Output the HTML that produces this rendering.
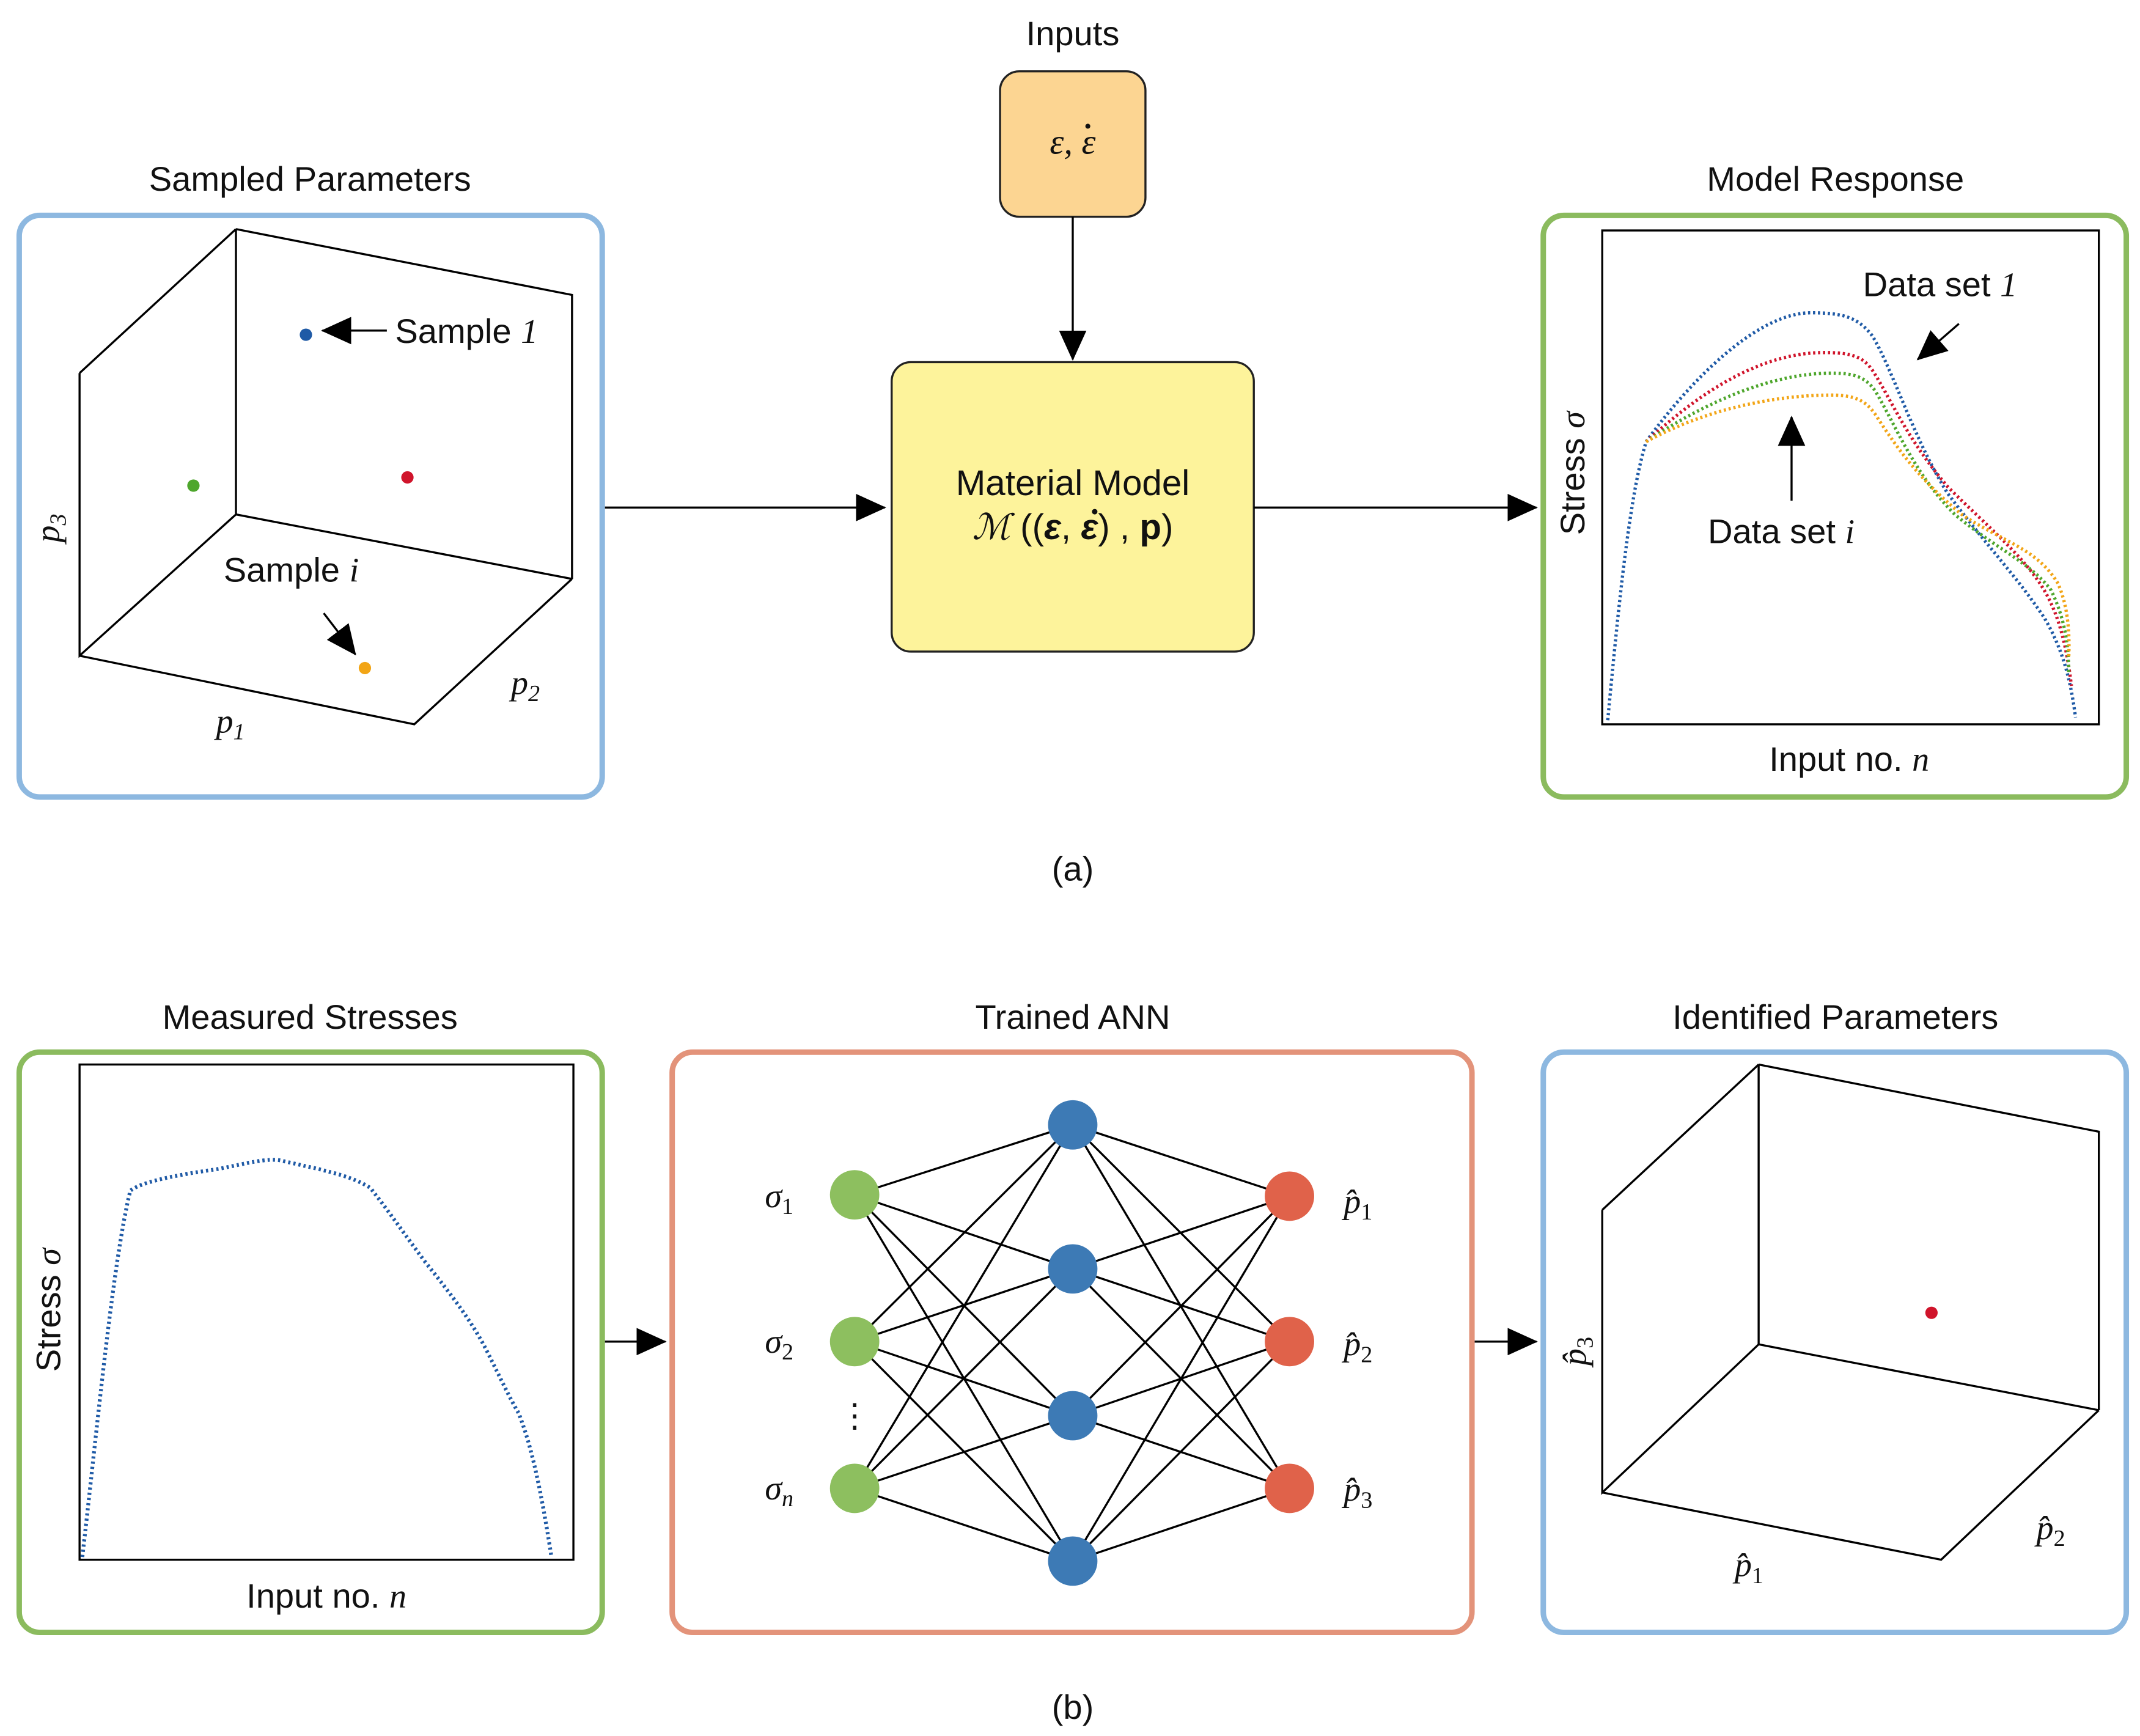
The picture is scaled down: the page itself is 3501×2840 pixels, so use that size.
<!DOCTYPE html>
<html><head><meta charset="utf-8"><style>
html,body{margin:0;padding:0;background:#fff}
svg{display:block}
text{font-family:"Liberation Sans",sans-serif;fill:#111}
.m{font-family:"Liberation Serif",serif;font-style:italic}
</style></head><body>
<svg width="3501" height="2840" viewBox="0 0 1560 1265.5" preserveAspectRatio="none" xmlns="http://www.w3.org/2000/svg">
<defs>
<marker id="ahb" markerWidth="22" markerHeight="20" refX="21" refY="10" orient="auto" markerUnits="userSpaceOnUse" viewBox="0 0 22 20">
<path d="M0,0 L22,10 L0,20 z" fill="#000"/></marker>
</defs>
<rect width="1560" height="1266" fill="#fff"/>

<!-- ===== (a) ===== -->
<text x="782" y="33" font-size="25" text-anchor="middle">Inputs</text>
<rect x="729" y="52" width="106" height="106" rx="14" fill="#fcd592" stroke="#222" stroke-width="1.5"/>
<text x="782" y="112" font-size="26" text-anchor="middle" class="m">ε, ε</text>
<circle cx="793" cy="92" r="1.8" fill="#111"/>
<line x1="782" y1="158" x2="782" y2="262" stroke="#000" stroke-width="1.5" marker-end="url(#ahb)"/>
<rect x="650" y="264" width="264" height="211" rx="14" fill="#fdf39b" stroke="#222" stroke-width="1.5"/>
<text x="782" y="361" font-size="26" text-anchor="middle">Material Model</text>
<text x="782" y="393" font-size="26" text-anchor="middle" font-family="Liberation Serif"><tspan font-style="italic">ℳ</tspan> ((<tspan font-weight="bold" font-style="italic">ε</tspan>, <tspan font-weight="bold" font-style="italic">ε</tspan>) , <tspan font-weight="bold">p</tspan>)</text>
<circle cx="798" cy="373" r="2" fill="#111"/>

<!-- left panel -->
<text x="226" y="139" font-size="25" text-anchor="middle">Sampled Parameters</text>
<rect x="14" y="157" width="425" height="424" rx="15" fill="none" stroke="#8db8e0" stroke-width="4"/>
<g stroke="#000" stroke-width="1.5" fill="none">
<path d="M172,167 L417,215 L417,422 M172,167 L172,375 L417,422 M58,272 L172,167 M58,272 L58,478 L172,375 M58,478 L302,528 L417,422"/>
</g>
<circle cx="223" cy="244" r="4.5" fill="#1f5aa6"/>
<circle cx="297" cy="348" r="4.5" fill="#d0142b"/>
<circle cx="141" cy="354" r="4.5" fill="#4ea62c"/>
<circle cx="266" cy="487" r="4.5" fill="#f2a516"/>
<line x1="282" y1="241" x2="235" y2="241" stroke="#000" stroke-width="1.5" marker-end="url(#ahb)"/>
<text x="288" y="250" font-size="25">Sample <tspan class="m">1</tspan></text>
<text x="163" y="424" font-size="25">Sample <tspan class="m">i</tspan></text>
<line x1="236" y1="447" x2="259" y2="477" stroke="#000" stroke-width="1.5" marker-end="url(#ahb)"/>
<text transform="translate(43,385) rotate(-90)" font-size="25" class="m" text-anchor="middle">p<tspan font-size="17" dy="5">3</tspan></text>
<text x="168" y="534" font-size="25" class="m" text-anchor="middle">p<tspan font-size="17" dy="5">1</tspan></text>
<text x="383" y="506" font-size="25" class="m" text-anchor="middle">p<tspan font-size="17" dy="5">2</tspan></text>

<line x1="441" y1="370" x2="645" y2="370" stroke="#000" stroke-width="1.5" marker-end="url(#ahb)"/>
<line x1="914" y1="370" x2="1120" y2="370" stroke="#000" stroke-width="1.5" marker-end="url(#ahb)"/>

<!-- right panel -->
<text x="1338" y="139" font-size="25" text-anchor="middle">Model Response</text>
<rect x="1125" y="157" width="425" height="424" rx="15" fill="none" stroke="#8bbb5e" stroke-width="4"/>
<rect x="1168" y="168" width="362" height="360" fill="none" stroke="#000" stroke-width="1.5"/>
<g fill="none" stroke-width="2.4" stroke-dasharray="1.6 2">
<path stroke="#1f5aa6" d="M1172,525 C1180,440 1188,360 1200,322 C1230,280 1280,228 1320,228 C1345,228 1355,232 1365,245 C1380,270 1395,320 1420,360 C1450,400 1470,420 1490,450 C1505,475 1510,500 1513,523"/>
<path stroke="#d0142b" d="M1200,322 C1235,290 1280,257 1330,257 C1350,257 1358,260 1365,270 C1378,290 1390,320 1420,355 C1450,385 1475,405 1490,430 C1502,450 1507,475 1510,500"/>
<path stroke="#4ea62c" d="M1200,322 C1240,295 1290,272 1335,272 C1352,272 1360,275 1367,285 C1382,310 1395,345 1425,375 C1455,400 1480,410 1495,430 C1505,450 1508,470 1508,490"/>
<path stroke="#f2a516" d="M1200,322 C1240,300 1290,288 1335,288 C1352,288 1360,292 1367,302 C1385,330 1400,350 1430,375 C1460,395 1485,400 1500,425 C1507,440 1509,460 1508,480"/>
</g>
<text x="1358" y="216" font-size="25">Data set <tspan class="m">1</tspan></text>
<line x1="1428" y1="236" x2="1398" y2="262" stroke="#000" stroke-width="1.5" marker-end="url(#ahb)"/>
<line x1="1306" y1="365" x2="1306" y2="304" stroke="#000" stroke-width="1.5" marker-end="url(#ahb)"/>
<text x="1245" y="396" font-size="25">Data set <tspan class="m">i</tspan></text>
<text transform="translate(1155,345) rotate(-90)" font-size="25" text-anchor="middle">Stress <tspan class="m">σ</tspan></text>
<text x="1348" y="562" font-size="25" text-anchor="middle">Input no. <tspan class="m">n</tspan></text>

<text x="782" y="642" font-size="25" text-anchor="middle">(a)</text>

<!-- ===== (b) ===== -->
<text x="226" y="750" font-size="25" text-anchor="middle">Measured Stresses</text>
<rect x="14" y="767" width="425" height="423" rx="15" fill="none" stroke="#8bbb5e" stroke-width="4"/>
<rect x="58" y="776" width="360" height="361" fill="none" stroke="#000" stroke-width="1.5"/>
<path fill="none" stroke="#1f5aa6" stroke-width="2.8" stroke-dasharray="1.6 2.2" d="M60,1135 C70,1050 82,920 95,868 C105,860 140,855 160,852 C180,848 195,844 205,846 C230,852 255,856 270,866 C285,885 295,900 310,920 C330,945 345,965 355,985 C365,1005 372,1020 378,1030 C388,1055 395,1090 402,1135"/>
<text transform="translate(44,955) rotate(-90)" font-size="25" text-anchor="middle">Stress <tspan class="m">σ</tspan></text>
<text x="238" y="1172" font-size="25" text-anchor="middle">Input no. <tspan class="m">n</tspan></text>

<line x1="441" y1="978" x2="485" y2="978" stroke="#000" stroke-width="1.5" marker-end="url(#ahb)"/>

<text x="782" y="750" font-size="25" text-anchor="middle">Trained ANN</text>
<rect x="490" y="767" width="583" height="423" rx="15" fill="none" stroke="#e3937a" stroke-width="4"/>
<g stroke="#000" stroke-width="1.5">
<path d="M623,871 L782,820 M623,871 L782,925 M623,871 L782,1032 M623,871 L782,1138
M623,978 L782,820 M623,978 L782,925 M623,978 L782,1032 M623,978 L782,1138
M623,1085 L782,820 M623,1085 L782,925 M623,1085 L782,1032 M623,1085 L782,1138
M782,820 L940,872 M782,820 L940,978 M782,820 L940,1085
M782,925 L940,872 M782,925 L940,978 M782,925 L940,1085
M782,1032 L940,872 M782,1032 L940,978 M782,1032 L940,1085
M782,1138 L940,872 M782,1138 L940,978 M782,1138 L940,1085"/>
</g>
<g fill="#8dbf5f"><circle cx="623" cy="871" r="18"/><circle cx="623" cy="978" r="18"/><circle cx="623" cy="1085" r="18"/></g>
<g fill="#3d7ab5"><circle cx="782" cy="820" r="18"/><circle cx="782" cy="925" r="18"/><circle cx="782" cy="1032" r="18"/><circle cx="782" cy="1138" r="18"/></g>
<g fill="#e0624a"><circle cx="940" cy="872" r="18"/><circle cx="940" cy="978" r="18"/><circle cx="940" cy="1085" r="18"/></g>
<text x="568" y="880" font-size="25" class="m" text-anchor="middle">σ<tspan font-size="17" dy="5" font-style="normal">1</tspan></text>
<text x="568" y="986" font-size="25" class="m" text-anchor="middle">σ<tspan font-size="17" dy="5" font-style="normal">2</tspan></text>
<text x="568" y="1093" font-size="25" class="m" text-anchor="middle">σ<tspan font-size="17" dy="5">n</tspan></text>
<text x="623" y="1040" font-size="24" text-anchor="middle" font-family="Liberation Serif">⋮</text>
<text x="990" y="884" font-size="25" class="m" text-anchor="middle">p̂<tspan font-size="17" dy="5" font-style="normal">1</tspan></text>
<text x="990" y="988" font-size="25" class="m" text-anchor="middle">p̂<tspan font-size="17" dy="5" font-style="normal">2</tspan></text>
<text x="990" y="1094" font-size="25" class="m" text-anchor="middle">p̂<tspan font-size="17" dy="5" font-style="normal">3</tspan></text>

<line x1="1075" y1="978" x2="1120" y2="978" stroke="#000" stroke-width="1.5" marker-end="url(#ahb)"/>

<text x="1338" y="750" font-size="25" text-anchor="middle">Identified Parameters</text>
<rect x="1125" y="767" width="425" height="423" rx="15" fill="none" stroke="#8db8e0" stroke-width="4"/>
<g stroke="#000" stroke-width="1.5" fill="none">
<path d="M1282,776 L1530,825 L1530,1028 M1282,776 L1282,980 L1530,1028 M1168,882 L1282,776 M1168,882 L1168,1088 L1282,980 M1168,1088 L1415,1137 L1530,1028"/>
</g>
<circle cx="1408" cy="957" r="4.5" fill="#d0142b"/>
<text transform="translate(1156,985) rotate(-90)" font-size="25" class="m" text-anchor="middle">p̂<tspan font-size="17" dy="5" font-style="normal">3</tspan></text>
<text x="1275" y="1149" font-size="25" class="m" text-anchor="middle">p̂<tspan font-size="17" dy="5" font-style="normal">1</tspan></text>
<text x="1495" y="1122" font-size="25" class="m" text-anchor="middle">p̂<tspan font-size="17" dy="5" font-style="normal">2</tspan></text>

<text x="782" y="1253" font-size="25" text-anchor="middle">(b)</text>
</svg>
</body></html>
